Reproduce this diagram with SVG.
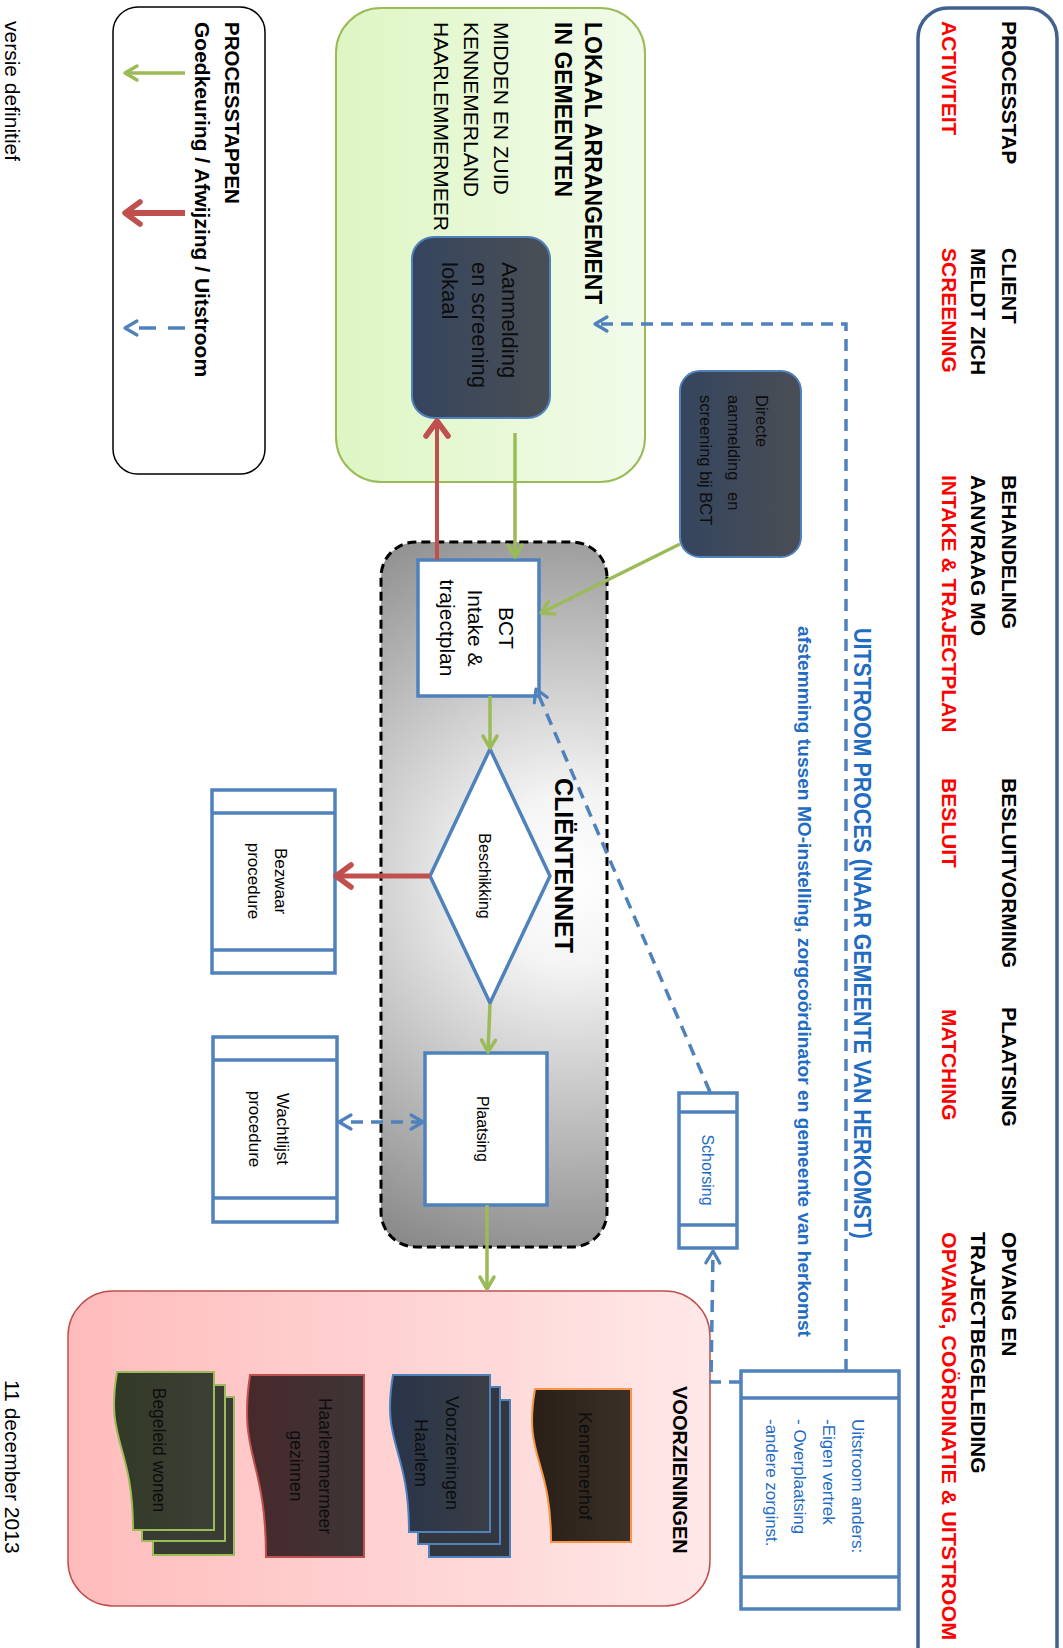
<svg xmlns="http://www.w3.org/2000/svg" width="1063" height="1648" viewBox="0 0 1063 1648">
<defs>
<style>
text{font-family:"Liberation Sans",Arial,"DejaVu Sans",sans-serif;}
.hb{font-weight:bold;font-size:21px;fill:#000}
.hr{font-weight:bold;font-size:21px;fill:#ff0000}
.t23{font-weight:bold;font-size:23px;fill:#000}
.r21{font-size:21px;fill:#000}
.box{fill:#fff;stroke:#4f81bd;stroke-width:3.5}
.band{stroke:#4f81bd;stroke-width:3.5;fill:none}
.g{fill:none;stroke:#9bbb59;stroke-width:3.5}
.r{fill:none;stroke:#c0504d;stroke-width:5}
.b{fill:none;stroke:#4f81bd;stroke-width:3.5;stroke-dasharray:12 8}
.card{font-size:18px;fill:#0d0d0d;text-anchor:middle}
.blue{fill:#1f6cc4}
.mid{text-anchor:middle}
</style>
<linearGradient id="gGreen" x1="0" y1="0" x2="0" y2="1"><stop offset="0" stop-color="#f2fbea"/><stop offset="1" stop-color="#ddf6c3"/></linearGradient>
<linearGradient id="gPink" x1="0" y1="0" x2="0" y2="1"><stop offset="0" stop-color="#ffe8e8"/><stop offset="1" stop-color="#ffbcbc"/></linearGradient>
<radialGradient id="gNet" gradientUnits="userSpaceOnUse" cx="880" cy="495" r="430"><stop offset="0" stop-color="#ffffff"/><stop offset="0.2" stop-color="#f4f4f4"/><stop offset="1" stop-color="#7e7e7e"/></radialGradient>
<linearGradient id="gDark" x1="0" y1="0" x2="0" y2="1"><stop offset="0" stop-color="#4a4e55"/><stop offset="1" stop-color="#35455e"/></linearGradient>
<linearGradient id="gBrown" x1="0" y1="0" x2="0" y2="1"><stop offset="0" stop-color="#3a3028"/><stop offset="1" stop-color="#2a1f17"/></linearGradient>
<linearGradient id="gNavy" x1="0" y1="0" x2="0" y2="1"><stop offset="0" stop-color="#3b3e45"/><stop offset="1" stop-color="#28344a"/></linearGradient>
<linearGradient id="gMaroon" x1="0" y1="0" x2="0" y2="1"><stop offset="0" stop-color="#3e3535"/><stop offset="1" stop-color="#48292c"/></linearGradient>
<linearGradient id="gOlive" x1="0" y1="0" x2="0" y2="1"><stop offset="0" stop-color="#3c3f36"/><stop offset="1" stop-color="#323a26"/></linearGradient>
<marker id="mg" viewBox="0 0 20 20" refX="17" refY="10" markerWidth="20" markerHeight="20" markerUnits="userSpaceOnUse" orient="auto"><path d="M5,3 L17,10 L5,17" fill="none" stroke="#9bbb59" stroke-width="3.5" stroke-linecap="round" stroke-linejoin="round"/></marker>
<marker id="mr" viewBox="0 0 30 30" refX="26" refY="15" markerWidth="30" markerHeight="30" markerUnits="userSpaceOnUse" orient="auto"><path d="M11,4 L26,15 L11,26" fill="none" stroke="#c0504d" stroke-width="5.5" stroke-linecap="round" stroke-linejoin="round"/></marker>
<marker id="mb" viewBox="0 0 20 20" refX="17" refY="10" markerWidth="20" markerHeight="20" markerUnits="userSpaceOnUse" orient="auto-start-reverse"><path d="M5,3 L17,10 L5,17" fill="none" stroke="#4f81bd" stroke-width="3.2" stroke-linecap="round" stroke-linejoin="round"/></marker>
</defs>
<rect width="1063" height="1648" fill="#fff"/>
<g transform="translate(1063,0) rotate(90)">

<g id="header">
<rect x="8" y="6" width="1690" height="139" rx="30" fill="#fff" stroke="#41618f" stroke-width="3.5"/>
<text class="hb" x="21" y="61">PROCESSTAP</text>
<text class="hr" x="21" y="121">ACTIVITEIT</text>
<text class="hb" x="248" y="61">CLIENT</text>
<text class="hb" x="248" y="92">MELDT ZICH</text>
<text class="hr" x="248" y="121">SCREENING</text>
<text class="hb" x="475" y="61">BEHANDELING</text>
<text class="hb" x="475" y="92">AANVRAAG MO</text>
<text class="hr" x="475" y="121">INTAKE &amp; TRAJECTPLAN</text>
<text class="hb" x="778" y="61">BESLUITVORMING</text>
<text class="hr" x="778" y="121">BESLUIT</text>
<text class="hb" x="1007" y="61">PLAATSING</text>
<text class="hr" x="1009" y="121">MATCHING</text>
<text class="hb" x="1232" y="61">OPVANG EN</text>
<text class="hb" x="1232" y="92">TRAJECTBEGELEIDING</text>
<text class="hr" x="1232" y="121" textLength="408" lengthAdjust="spacingAndGlyphs">OPVANG, COÖRDINATIE &amp; UITSTROOM</text>
</g>

<g id="lokaal-arrangement">
<rect x="8" y="418" width="474" height="309" rx="45" fill="url(#gGreen)" stroke="#9bbb59" stroke-width="2"/>
<text class="t23" x="22" y="478">LOKAAL ARRANGEMENT</text>
<text class="t23" x="22" y="508">IN GEMEENTEN</text>
<text class="r21" x="22" y="569">MIDDEN EN ZUID</text>
<text class="r21" x="22" y="599">KENNEMERLAND</text>
<text class="r21" x="22" y="629">HAARLEMMERMEER</text>
</g>

<g id="aanmelding-lokaal">
<rect x="237" y="513" width="181" height="138" rx="22" fill="url(#gDark)" stroke="#4f81bd" stroke-width="2"/>
<text x="262" y="561" style="font-size:22px;fill:#0d0d0d">Aanmelding</text>
<text x="262" y="591" style="font-size:22px;fill:#0d0d0d">en screening</text>
<text x="262" y="621" style="font-size:22px;fill:#0d0d0d">lokaal</text>
</g>

<g id="directe-aanmelding">
<rect x="371" y="262" width="186" height="121" rx="20" fill="url(#gDark)" stroke="#4f81bd" stroke-width="2"/>
<text x="395" y="307" style="font-size:16.5px;fill:#0d0d0d">Directe</text>
<text y="335" style="font-size:16.5px;fill:#0d0d0d"><tspan x="395">aanmelding</tspan><tspan x="492">en</tspan></text>
<text x="395" y="363" style="font-size:16.5px;fill:#0d0d0d">screening bij BCT</text>
</g>

<g id="clientennet">
<rect x="542" y="456" width="705" height="226" rx="35" fill="url(#gNet)" stroke="#000" stroke-width="3" stroke-dasharray="9 5"/>
<text x="778" y="508" style="font-weight:bold;font-size:25px;fill:#000">CLIËNTENNET</text>
</g>

<g id="bct">
<rect class="box" x="560" y="524" width="136" height="121"/>
<text class="mid" x="628" y="564" style="font-size:21px">BCT</text>
<text class="mid" x="628" y="595" style="font-size:21px">Intake &amp;</text>
<text class="mid" x="628" y="623" style="font-size:21px">trajectplan</text>
</g>

<g id="beschikking">
<polygon class="box" points="749,573 876,513 1003,573 876,633"/>
<text class="mid" x="876" y="584" style="font-size:16px">Beschikking</text>
</g>

<g id="plaatsing">
<rect class="box" x="1053" y="516" width="152" height="122"/>
<text class="mid" x="1129" y="586" style="font-size:16px">Plaatsing</text>
</g>

<g id="bezwaar">
<rect class="box" x="790" y="728" width="183" height="123"/>
<line class="band" x1="813" y1="728" x2="813" y2="851"/>
<line class="band" x1="950" y1="728" x2="950" y2="851"/>
<text class="mid" x="881" y="788" style="font-size:17px">Bezwaar</text>
<text class="mid" x="881" y="815" style="font-size:17px">procedure</text>
</g>

<g id="wachtlijst">
<rect class="box" x="1037" y="726" width="185" height="124"/>
<line class="band" x1="1060" y1="726" x2="1060" y2="850"/>
<line class="band" x1="1198" y1="726" x2="1198" y2="850"/>
<text class="mid" x="1129" y="786" style="font-size:17px">Wachtlijst</text>
<text class="mid" x="1129" y="814" style="font-size:17px">procedure</text>
</g>

<g id="schorsing">
<rect class="box" x="1093" y="326" width="155" height="58"/>
<line class="band" x1="1112" y1="326" x2="1112" y2="384"/>
<line class="band" x1="1225" y1="326" x2="1225" y2="384"/>
<text class="mid blue" x="1170" y="361" style="font-size:16px">Schorsing</text>
</g>

<g id="uitstroom-anders">
<rect class="box" x="1371" y="164" width="238" height="158"/>
<line class="band" x1="1398" y1="164" x2="1398" y2="322"/>
<line class="band" x1="1577" y1="164" x2="1577" y2="322"/>
<text class="blue" x="1419" y="211" style="font-size:17px">Uitstroom anders:</text>
<text class="blue" x="1419" y="240" style="font-size:17px">-Eigen vertrek</text>
<text class="blue" x="1419" y="269" style="font-size:17px">- Overplaatsing</text>
<text class="blue" x="1419" y="297" style="font-size:17px">-andere zorginst.</text>
</g>

<g id="uitstroom-proces">
<text class="blue" x="628" y="209" textLength="611" lengthAdjust="spacingAndGlyphs" style="font-weight:bold;font-size:23px">UITSTROOM PROCES (NAAR GEMEENTE VAN HERKOMST)</text>
<text class="blue" x="626" y="265" textLength="711" lengthAdjust="spacingAndGlyphs" style="font-weight:bold;font-size:18px">afstemming tussen MO-instelling, zorgcoördinator en gemeente van herkomst</text>
</g>

<g id="voorzieningen">
<rect x="1291" y="353" width="315" height="642" rx="45" fill="url(#gPink)" stroke="#c0504d" stroke-width="1.5"/>
<text x="1386" y="390" style="font-weight:bold;font-size:20px;fill:#000">VOORZIENINGEN</text>
</g>

<g id="kennemerhof">
<path d="M1389,432 H1542 V512 C1458,512 1458,540 1389,528 Z" fill="url(#gBrown)" stroke="#f79646" stroke-width="2"/>
<text class="card" x="1466" y="484">Kennemerhof</text>
</g>

<g id="voorzieningen-haarlem">
<rect x="1400" y="553" width="157" height="81" fill="#33373f" stroke="#4f81bd" stroke-width="2"/>
<rect x="1387" y="563" width="157" height="82" fill="#33373f" stroke="#4f81bd" stroke-width="2"/>
<path d="M1375,573 H1532 V654 C1446,654 1446,682 1375,670 Z" fill="url(#gNavy)" stroke="#4f81bd" stroke-width="2"/>
<text class="card" x="1453" y="617">Voorzieningen</text>
<text class="card" x="1453" y="648">Haarlem</text>
</g>

<g id="haarlemmermeer-gezinnen">
<path d="M1375,699 H1557 V797 C1457,797 1457,825 1375,813 Z" fill="url(#gMaroon)" stroke="#c0504d" stroke-width="2"/>
<text class="card" x="1466" y="744" style="font-size:17.5px">Haarlemmermeer</text>
<text class="card" x="1466" y="773" style="font-size:17.5px">gezinnen</text>
</g>

<g id="begeleid-wonen">
<rect x="1397" y="829" width="158" height="81" fill="#383c33" stroke="#9bbb59" stroke-width="2"/>
<rect x="1385" y="838" width="156" height="83" fill="#383c33" stroke="#9bbb59" stroke-width="2"/>
<path d="M1372,849 H1530 V930 C1443,930 1443,958 1372,946 Z" fill="url(#gOlive)" stroke="#9bbb59" stroke-width="2"/>
<text class="card" x="1450" y="910" style="font-size:17.5px">Begeleid wonen</text>
</g>

<g id="legenda">
<rect x="7" y="798" width="467" height="152" rx="25" fill="#fff" stroke="#000" stroke-width="1.5"/>
<text x="22" y="838" style="font-weight:bold;font-size:20.5px;fill:#000">PROCESSTAPPEN</text>
<text x="22" y="868" style="font-weight:bold;font-size:21px;fill:#000">Goedkeuring / Afwijzing / Uitstroom</text>
<path class="g" d="M73,878 V938" marker-end="url(#mg)"/>
<path class="r" d="M213,878 V938" style="stroke-width:6" marker-end="url(#mr)"/>
<path class="b" d="M328,878 V938" style="stroke-dasharray:17 12" marker-end="url(#mb)"/>
</g>

<g id="footer">
<text x="21" y="1058" class="r21">versie definitief</text>
<text x="1380" y="1058" class="r21">11 december 2013</text>
</g>

<g id="connectors">
<path class="b" d="M1371,217 H324 V468" marker-end="url(#mb)"/>
<path class="b" d="M1382,322 V352 L1251,350" marker-end="url(#mb)"/>
<path class="b" d="M1092,353 L689,527" marker-end="url(#mb)"/>
<path class="g" d="M433,548 H557" marker-end="url(#mg)"/>
<path class="r" d="M560,626 H421" style="stroke-width:4" marker-end="url(#mr)"/>
<path class="g" d="M544,383 L613,522" marker-end="url(#mg)"/>
<path class="g" d="M696,573 H748" marker-end="url(#mg)"/>
<path class="g" d="M1004,573 L1052,575" marker-end="url(#mg)"/>
<path class="r" d="M876,633 V727" marker-end="url(#mr)"/>
<path class="b" d="M1122,640 V724" marker-start="url(#mb)" marker-end="url(#mb)"/>
<path class="g" d="M1205,576 H1289" marker-end="url(#mg)"/>
</g>

</g>
</svg>
